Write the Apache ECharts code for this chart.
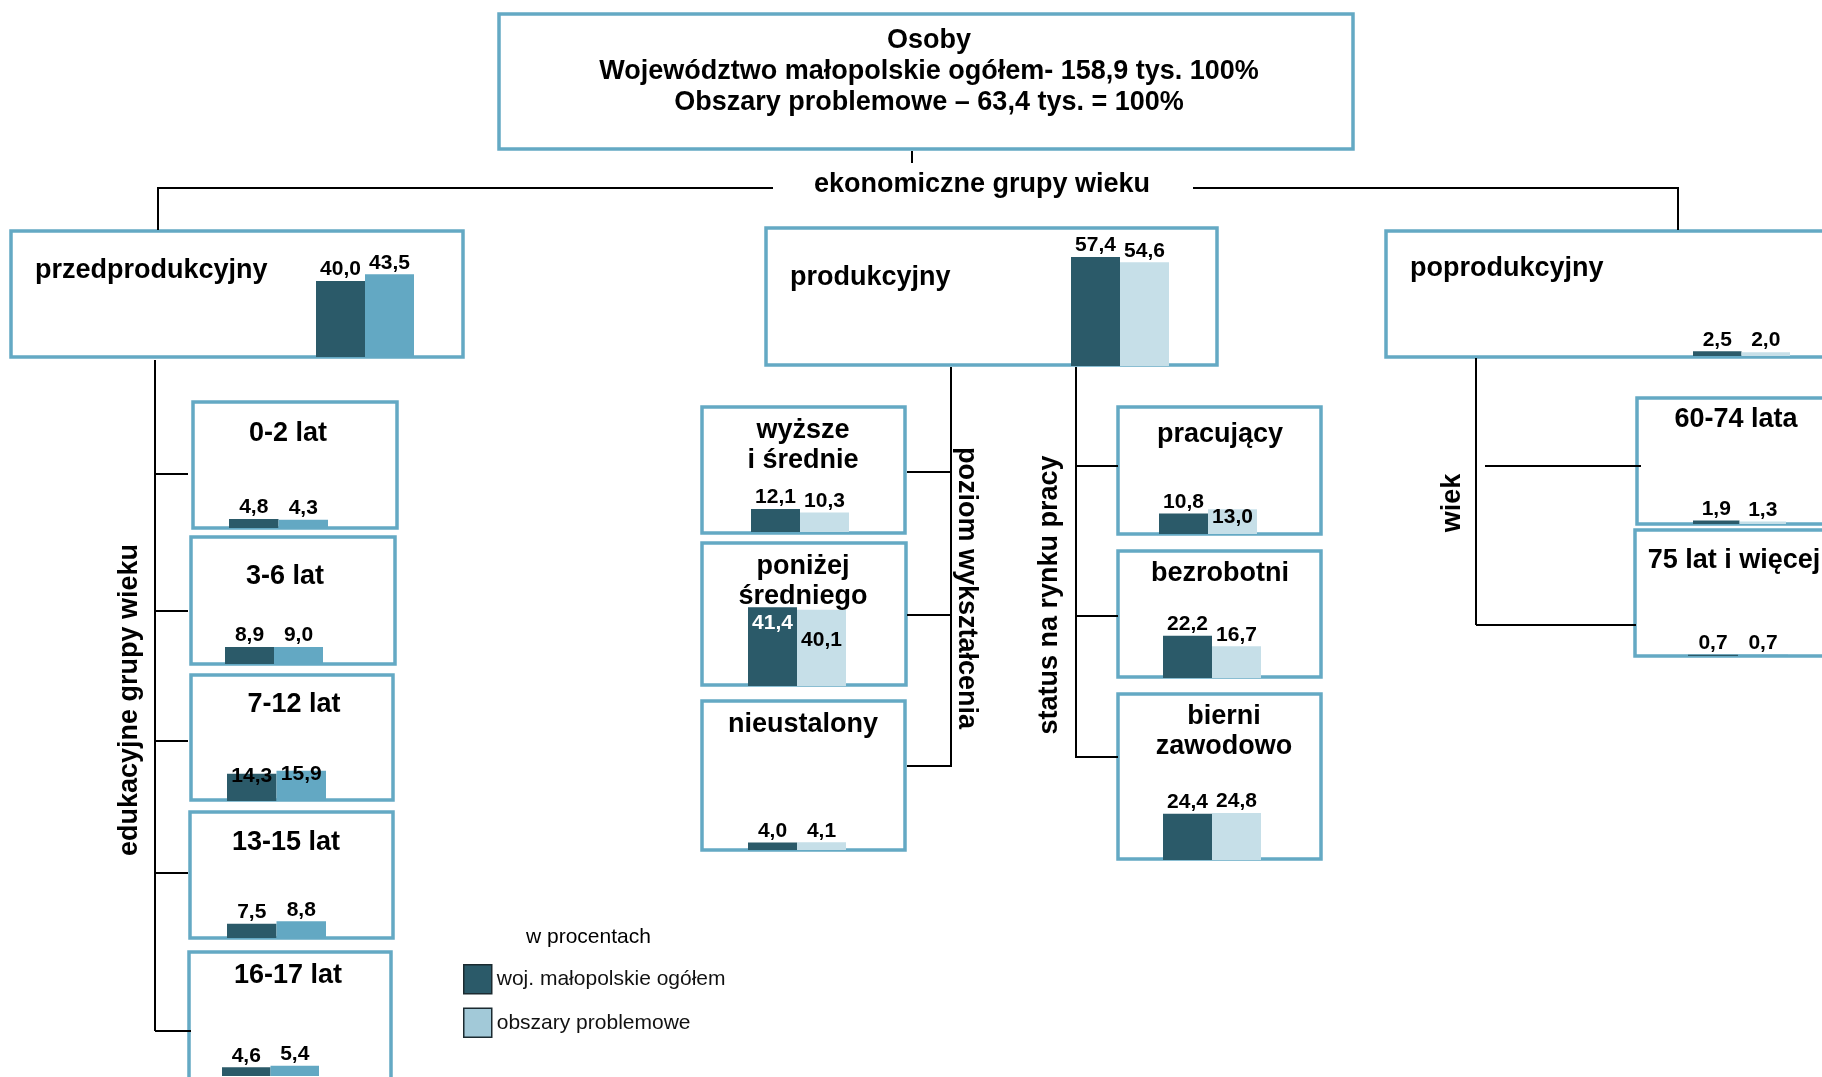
<!DOCTYPE html>
<html><head><meta charset="utf-8">
<script src="https://cdn.jsdelivr.net/npm/echarts@6/dist/echarts.min.js"></script>
<style>html,body{margin:0;padding:0;background:#fff}#c{width:1822px;height:1077px}</style>
</head><body><div id="c"></div>
<script>
// ---------------- DATA ----------------
const categories = ['przedprodukcyjny','produkcyjny','poprodukcyjny','0-2 lat','3-6 lat','7-12 lat','13-15 lat','16-17 lat','wyższe\ni średnie','poniżej\nśredniego','nieustalony','pracujący','bezrobotni','bierni\nzawodowo','60-74 lata','75 lat i więcej'];
const wojOgolem = [40.0,57.4,2.5,4.8,8.9,14.3,7.5,4.6,12.1,41.4,4.0,10.8,22.2,24.4,1.9,0.7];
const obszaryProblemowe = [43.5,54.6,2.0,4.3,9.0,15.9,8.8,5.4,10.3,40.1,4.1,13.0,16.7,24.8,1.3,0.7];
const seriesNames = ['woj. małopolskie ogółem','obszary problemowe'];
const unitLabel = 'w procentach';
const headerLines = ['Osoby','Województwo małopolskie ogółem- 158,9 tys. 100%','Obszary problemowe – 63,4 tys. = 100%'];
const branchLabels = ['ekonomiczne grupy wieku','edukacyjne grupy wieku','poziom wykształcenia','status na rynku pracy','wiek'];

// ---------------- LAYOUT / STYLE ----------------
const FONT = '"Liberation Sans", Arial, sans-serif';
const DARK = '#2b5a69', MED = '#63a8c3', LIGHT = '#c6dfe8', BORDER = '#64a9c4', LEG_LIGHT = '#a2c9d8';
const PX_PER_UNIT = 1.9, YMAX = 60;
const TITLE_SIZE = 27, DY = 2.5;
const boxRects = [
  [11,231,452,126],[766,228,451,137],[1386,231,460,126],
  [193,402,204,126],[191,537,204,127],[191,675,202,125],[190,812,203,126],[189,952,202,140],
  [702,407,203,126],[702,543,204,142],[702,701,203,149],
  [1118,407,203,127],[1118,551,203,126],[1118,694,203,165],
  [1637,398,210,126],[1635,530,210,126]
];
// bar pair: left, total width, baseline
const barPos = [
  [316,98,357],[1071,98,366],[1693,97,356],
  [229,99,528],[225,98,664],[227,99,801],[227,99,938],[222,97,1076],
  [751,98,532],[748,98,686],[748,98,850],
  [1159,98,534],[1163,98,678],[1163,98,860],
  [1693,93,524],[1688,100,656]
];
// title anchor: x, y, align
const titlePos = [
  [35,268,'left'],[790,275,'left'],[1410,266,'left'],
  [288,431,'center'],[285,574,'center'],[294,702,'center'],[286,840,'center'],[288,973,'center'],
  [803,443,'center'],[803,579,'center'],[803,722,'center'],
  [1220,432,'center'],[1220,571,'center'],[1224,729,'center'],
  [1736,417,'center'],[1734,558,'center']
];
const lightColor = [MED,LIGHT,LIGHT,MED,MED,MED,MED,MED,LIGHT,LIGHT,LIGHT,LIGHT,LIGHT,LIGHT,LIGHT,MED];
// label tweaks: [boxIndex, seriesIndex, labelOverrides]
const labelTweaks = [
  [9,0,{position:'insideTop',distance:5,color:'#fff'}],
  [9,1,{position:'insideTop',distance:20}],
  [5,0,{offset:[0,14]}],[5,1,{offset:[0,15]}],
  [11,1,{offset:[0,19]}]
];

const fmt = v => v.toFixed(1).replace('.', ',');

const grids = [], xAxes = [], yAxes = [], series = [];
categories.forEach((cat, i) => {
  const [l, w, b] = barPos[i];
  grids.push({left:l, top:b - YMAX*PX_PER_UNIT, width:w, height:YMAX*PX_PER_UNIT, containLabel:false});
  xAxes.push({type:'category', gridIndex:i, data:[cat], show:false});
  yAxes.push({type:'value', gridIndex:i, min:0, max:YMAX, show:false});
  [wojOgolem, obszaryProblemowe].forEach((arr, s) => {
    const label = {show:true, position:'top', distance:1, color:'#000', fontFamily:FONT, fontWeight:'bold', fontSize:21,
      formatter: p => fmt(p.value)};
    labelTweaks.forEach(t => { if (t[0] === i && t[1] === s) Object.assign(label, t[2]); });
    series.push({
      type:'bar', name:seriesNames[s], xAxisIndex:i, yAxisIndex:i,
      data:[arr[i]], barGap:'0%', barCategoryGap:'0%',
      itemStyle:{color: s === 0 ? DARK : lightColor[i]},
      label, emphasis:{disabled:true}
    });
  });
});

const graphic = [];
const rect = (r, stroke) => ({type:'rect', z:0, shape:{x:r[0], y:r[1], width:r[2], height:r[3]},
  style:{fill:'#fff', stroke:stroke, lineWidth:3.5}});
const line = (x1,y1,x2,y2) => ({type:'line', z:1, shape:{x1,y1,x2,y2}, style:{stroke:'#000', lineWidth:2}});
const text = (t, x, y, opts={}) => ({type:'text', z:3, x, y, rotation:opts.rotation||0,
  style:{text:t, x:0, y:0, textAlign:opts.align||'center', textVerticalAlign:'middle',
    fontFamily:FONT, fontWeight:opts.weight||'bold', fontSize:opts.size||TITLE_SIZE, lineHeight:opts.lh||30, fill:'#000'}});

graphic.push(rect([499,14,854,135], BORDER));
boxRects.forEach(r => graphic.push(rect(r, BORDER)));
// connectors
graphic.push(line(912,151,912,163));
graphic.push(line(158,188,773,188), line(1193,188,1678,188));
graphic.push(line(158,187,158,230), line(1678,187,1678,230));
graphic.push(line(155,360,155,1031));
[474,611,741,873].forEach(y => graphic.push(line(155,y,188,y)));
graphic.push(line(155,1031,191,1031));
graphic.push(line(951,367,951,766));
[472,615,766].forEach(y => graphic.push(line(907,y,952,y)));
graphic.push(line(1076,367,1076,757));
[466,616,757].forEach(y => graphic.push(line(1075,y,1118,y)));
graphic.push(line(1476,358,1476,625));
graphic.push(line(1485,466,1641,466), line(1476,625,1636,625));
// header
graphic.push(text(headerLines[0], 929, 38+DY), text(headerLines[1], 929, 69+DY), text(headerLines[2], 929, 100+DY));
graphic.push(text(branchLabels[0], 982, 182+DY));
graphic.push(text(branchLabels[1], 129.5, 700, {rotation:Math.PI/2}));
graphic.push(text(branchLabels[2], 966, 588, {rotation:-Math.PI/2}));
graphic.push(text(branchLabels[3], 1050, 595, {rotation:Math.PI/2}));
graphic.push(text(branchLabels[4], 1453, 503, {rotation:Math.PI/2}));
// box titles
categories.forEach((c, i) => graphic.push(text(c, titlePos[i][0], titlePos[i][1]+DY, {align:titlePos[i][2]})));
graphic.push(text(unitLabel, 526, 935+DY, {align:'left', weight:'normal', size:21}));

const chart = echarts.init(document.getElementById('c'), null, {renderer:'canvas'});
chart.setOption({
  animation:false,
  backgroundColor:'#fff',
  grid:grids, xAxis:xAxes, yAxis:yAxes, series,
  legend:{
    orient:'vertical', left:463, top:964, padding:0, itemWidth:28, itemHeight:29, itemGap:13,
    icon:'rect', selectedMode:false,
    textStyle:{fontFamily:FONT, fontSize:21, color:'#111'},
    data:[
      {name:seriesNames[0], itemStyle:{color:DARK, borderColor:'#1b2a30', borderWidth:1.5}},
      {name:seriesNames[1], itemStyle:{color:LEG_LIGHT, borderColor:'#1b2a30', borderWidth:1.5}}
    ]
  },
  graphic
});
</script></body></html>
